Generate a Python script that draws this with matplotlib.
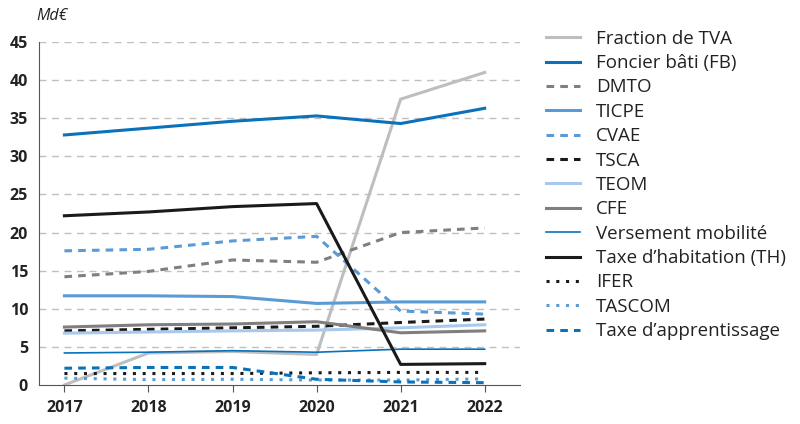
import matplotlib.pyplot as plt

years = [2017, 2018, 2019, 2020, 2021, 2022]

tva = [0.0, 4.2, 4.4, 4.0, 37.5, 41.0]
foncier = [32.8, 33.7, 34.6, 35.3, 34.3, 36.3]
dmto = [14.2, 14.9, 16.4, 16.1, 20.0, 20.6]
ticpe = [11.7, 11.7, 11.6, 10.7, 10.9, 10.9]
cvae = [17.6, 17.8, 18.9, 19.5, 9.7, 9.3]
tsca = [7.1, 7.3, 7.5, 7.7, 8.2, 8.65]
teom = [6.8, 6.95, 7.1, 7.2, 7.5, 7.9]
cfe = [7.6, 7.9, 8.0, 8.3, 6.85, 7.1]
mobilite = [4.2, 4.3, 4.5, 4.3, 4.7, 4.7]
th = [22.2, 22.7, 23.4, 23.8, 2.7, 2.8]
ifer = [1.5, 1.5, 1.5, 1.6, 1.65, 1.65]
tascom = [0.9, 0.7, 0.75, 0.65, 0.65, 0.8]
apprentissage = [2.2, 2.3, 2.3, 0.75, 0.4, 0.3]

labels = ["Fraction de TVA", "Foncier bâti (FB)", "DMTO", "TICPE", "CVAE", "TSCA",
          "TEOM", "CFE", "Versement mobilité", "Taxe d\u2019habitation (TH)",
          "IFER", "TASCOM", "Taxe d\u2019apprentissage"]

plt.rcParams['font.family'] = ['Open Sans', 'DejaVu Sans']

fig = plt.figure(figsize=(8, 4.24), dpi=100)
ax = fig.add_axes([0.049, 0.092, 0.601, 0.809])

blue = "#0a72ba"
mid = "#5b9bd5"
light = "#a9c9ec"
grey = "#7f7f7f"
pale = "#bdbec0"

ax.plot(years, tva, color=pale, lw=2.2, label=labels[0])
ax.plot(years, foncier, color=blue, lw=2.2, label=labels[1])
ax.plot(years, dmto, color=grey, lw=2.2, ls=(0, (2.5, 2)), label=labels[2])
ax.plot(years, ticpe, color=mid, lw=2.2, label=labels[3])
ax.plot(years, cvae, color=mid, lw=2.2, ls=(0, (2.5, 2)), label=labels[4])
ax.plot(years, tsca, color="#1a1a1a", lw=2.2, ls=(0, (2.5, 2)), label=labels[5])
ax.plot(years, teom, color=light, lw=2.2, label=labels[6])
ax.plot(years, cfe, color=grey, lw=2.2, label=labels[7])
ax.plot(years, mobilite, color=blue, lw=1.2, label=labels[8])
ax.plot(years, th, color="#1a1a1a", lw=2.2, label=labels[9])
ax.plot(years, ifer, color="#1a1a1a", lw=2.2, ls=(0, (1, 2.2)), label=labels[10])
ax.plot(years, tascom, color=mid, lw=2.2, ls=(0, (1, 2.2)), label=labels[11])
ax.plot(years, apprentissage, color=blue, lw=2.2, ls=(0, (2.5, 2)), label=labels[12])

ax.set_xlim(2016.7, 2022.42)
ax.set_ylim(0, 45)
ax.set_xticks(years)
ax.set_yticks(range(0, 50, 5))
for y in range(5, 50, 5):
    ax.axhline(y, color="#c0c0c0", lw=1, ls=(0, (5, 4)), zorder=0)

for s in ["top", "right"]:
    ax.spines[s].set_visible(False)
ax.spines["left"].set_color("#555555")
ax.spines["bottom"].set_color("#555555")
ax.tick_params(axis="y", length=0, labelsize=11.5, pad=8)
ax.tick_params(axis="x", length=5, color="#555555", labelsize=11.5, pad=6)
for t in ax.get_xticklabels() + ax.get_yticklabels():
    t.set_fontweight("bold")
    t.set_color("#222222")

fig.text(0.046, 0.963, "Md\u20ac", fontsize=11.5, style="italic", va="center", color="#222222")

ax.legend(loc="upper left", bbox_to_anchor=(1.02, 1.085), frameon=False,
          fontsize=13.5, handlelength=1.8, handletextpad=0.85, labelspacing=0.34,
          labelcolor="#222222")

fig.savefig("out.png", dpi=100)
